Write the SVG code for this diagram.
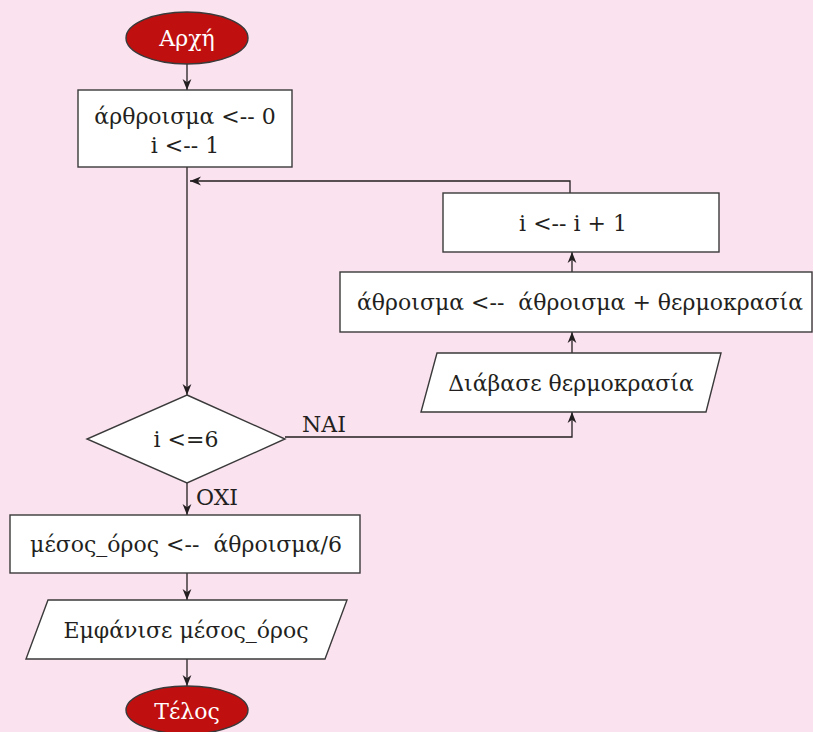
<svg xmlns="http://www.w3.org/2000/svg" width="813" height="732" viewBox="0 0 813 732">
  <defs>
    <marker id="arrow" viewBox="0 0 10 10" refX="10" refY="5" markerWidth="11" markerHeight="11" markerUnits="userSpaceOnUse" orient="auto">
      <path d="M0,1 L10,5 L0,9 L3,5 Z" fill="#231f20"/>
    </marker>
  </defs>
  <style>
    .box { fill: #ffffff; stroke: #3a3a3a; stroke-width: 1.4; }
    .term { fill: #c00f0f; stroke: #3a3a3a; stroke-width: 1.4; }
    .lbl { font-family: "DejaVu Serif", "Liberation Serif", serif; font-size: 22px; fill: #231f20; text-anchor: middle; }
    .lblw { font-family: "DejaVu Serif", "Liberation Serif", serif; font-size: 22px; fill: #ffffff; text-anchor: middle; }
    .edge { fill: none; stroke: #231f20; stroke-width: 1.3; }
  </style>
  <rect width="813" height="732" fill="#fbe2ef"/>

  <g id="connectors">
    <line class="edge" x1="187" y1="64" x2="187" y2="90" marker-end="url(#arrow)"/>
    <line class="edge" x1="187" y1="167" x2="187" y2="395" marker-end="url(#arrow)"/>
    <polyline class="edge" points="285,437 572,437 572,412" marker-end="url(#arrow)"/>
    <line class="edge" x1="572" y1="353" x2="572" y2="332" marker-end="url(#arrow)"/>
    <line class="edge" x1="572" y1="272" x2="572" y2="252" marker-end="url(#arrow)"/>
    <polyline class="edge" points="570,193 570,181 190,181" marker-end="url(#arrow)"/>
    <line class="edge" x1="187" y1="483" x2="187" y2="515" marker-end="url(#arrow)"/>
    <line class="edge" x1="187" y1="573" x2="187" y2="600" marker-end="url(#arrow)"/>
    <line class="edge" x1="187" y1="659" x2="187" y2="686" marker-end="url(#arrow)"/>
    <text class="lbl" x="324" y="432">NAI</text>
    <text class="lbl" x="217" y="505">OXI</text>
  </g>

  <g id="start">
    <ellipse class="term" cx="187" cy="38" rx="61" ry="26"/>
    <text class="lblw" x="187" y="46">Αρχή</text>
  </g>

  <g id="init">
    <rect class="box" x="78" y="90" width="214" height="77"/>
    <text class="lbl" x="185" y="124">άρθροισμα &lt;-- 0</text>
    <text class="lbl" x="185" y="153">i &lt;-- 1</text>
  </g>

  <g id="increment">
    <rect class="box" x="443" y="193" width="276" height="59"/>
    <text class="lbl" x="573" y="231">i &lt;-- i + 1</text>
  </g>

  <g id="accumulate">
    <rect class="box" x="340" y="272" width="472" height="60"/>
    <text class="lbl" x="580" y="310" xml:space="preserve">άθροισμα &lt;--  άθροισμα + θερμοκρασία</text>
  </g>

  <g id="read">
    <polygon class="box" points="437,353 721,353 706,412 421,412"/>
    <text class="lbl" x="571" y="391">Διάβασε θερμοκρασία</text>
  </g>

  <g id="condition">
    <polygon class="box" points="187,395 285,439 187,483 87,439"/>
    <text class="lbl" x="186" y="447">i &lt;=6</text>
  </g>

  <g id="average">
    <rect class="box" x="10" y="515" width="350" height="58"/>
    <text class="lbl" x="186" y="552" xml:space="preserve">μέσος_όρος &lt;--  άθροισμα/6</text>
  </g>

  <g id="display">
    <polygon class="box" points="48,600 347,600 325,659 26,659"/>
    <text class="lbl" x="186" y="638">Εμφάνισε μέσος_όρος</text>
  </g>

  <g id="end">
    <ellipse class="term" cx="187" cy="710" rx="61" ry="24"/>
    <text class="lblw" x="187" y="719">Τέλος</text>
  </g>
</svg>
